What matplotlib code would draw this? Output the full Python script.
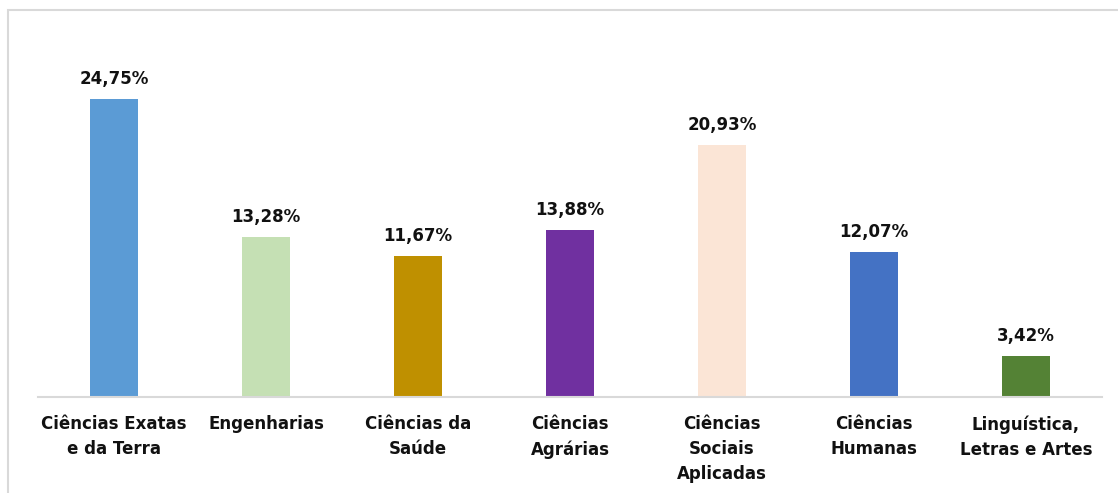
import matplotlib.pyplot as plt
from matplotlib.patches import Rectangle

# Share of each area of knowledge
areas = ['Ciências Exatas\ne da Terra', 'Engenharias', 'Ciências da\nSaúde',
         'Ciências\nAgrárias', 'Ciências\nSociais\nAplicadas',
         'Ciências\nHumanas', 'Linguística,\nLetras e Artes']
shares = [24.75, 13.28, 11.67, 13.88, 20.93, 12.07, 3.42]
colors = ['#5B9BD5', '#C5E0B4', '#BF9000', '#7030A0',
          '#FBE5D6', '#4472C4', '#548235']

W, H = 1118, 493
fig = plt.figure(figsize=(W / 100, H / 100), dpi=100)

# Light frame around the chart area
fig.patches.append(Rectangle((8 / W, -0.1), 1.2, (H - 10) / H + 0.1,
                             transform=fig.transFigure, fill=False,
                             edgecolor='#D9D9D9', linewidth=1.5))

ax = fig.add_axes([38 / W, 96 / H, (1102 - 38) / W, (397 - 20) / H])

x = range(len(areas))
bars = ax.bar(x, shares, width=0.31, color=colors)

for b, v in zip(bars, shares):
    ax.annotate(f'{v:.2f}%'.replace('.', ','),
                (b.get_x() + b.get_width() / 2, v),
                xytext=(0, 8), textcoords='offset points',
                ha='center', va='bottom', fontsize=12,
                fontweight='bold', color='#111111')

ax.set_xlim(-0.5, len(areas) - 0.5)
ax.set_ylim(0, 377 / 12.04)
ax.set_xticks(list(x))
ax.set_xticklabels(areas, fontsize=12, fontweight='bold', color='#111111',
                   linespacing=1.5)
ax.tick_params(axis='x', length=0, pad=13)
ax.set_yticks([])

for side in ['top', 'left', 'right']:
    ax.spines[side].set_visible(False)
ax.spines['bottom'].set_color('#D9D9D9')
ax.spines['bottom'].set_linewidth(1.5)

fig.savefig('out.png', dpi=100)
